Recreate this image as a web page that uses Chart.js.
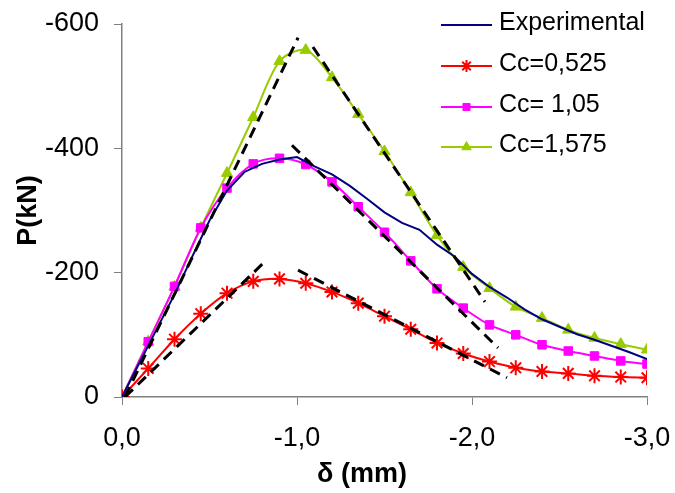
<!DOCTYPE html>
<html>
<head>
<meta charset="utf-8">
<script src="https://cdn.jsdelivr.net/npm/chart.js@4.4.1/dist/chart.umd.min.js"></script>
<style>
  html, body { margin: 0; padding: 0; background: #fff; }
  #wrap { width: 675px; height: 493px; }
</style>
</head>
<body>
<div id="wrap"><canvas id="myChart"></canvas></div>
<script>
// model points, every 0.15 mm
var modelDelta = [0, -0.15, -0.3, -0.45, -0.6, -0.75, -0.9, -1.05, -1.2, -1.35, -1.5,
                  -1.65, -1.8, -1.95, -2.1, -2.25, -2.4, -2.55, -2.7, -2.85, -3.0];
var cc0525 = [0, -46, -93, -134, -167, -186, -190, -183, -169, -151, -130,
              -109, -87, -70, -57, -47, -41, -38, -34, -32, -31];
var cc105 = [0, -89, -178, -272, -336, -375, -384, -374, -346, -306, -265,
             -219, -174, -143, -116, -100, -84, -74, -66, -58, -53];
var cc1575 = [0, -89, -177, -272, -360, -450, -540, -558, -514, -455, -395,
              -329, -260, -209, -175, -145, -127, -108, -95, -85, -76];

// experimental curve
var expDelta = [0, -0.1, -0.2, -0.3, -0.4, -0.5, -0.6, -0.7, -0.8, -0.9, -1.0,
                -1.1, -1.2, -1.3, -1.4, -1.5, -1.6, -1.7, -1.8, -1.9, -2.0,
                -2.1, -2.2, -2.3, -2.4, -2.5, -2.6, -2.7, -2.8, -2.9, -3.0, -3.05];
var expLoad = [0, -55, -110, -165, -225, -284, -332, -362, -375, -382, -386,
               -371, -358, -340, -319, -297, -280, -269, -245, -226, -198,
               -177, -160, -141, -125, -113, -101, -92, -82, -72, -61, -55];

// dashed black segments [x1, y1, x2, y2]
var dashSegs = [
  [-0.017, 0, -1.006, -578],
  [-1.091, -563, -2.074, -153],
  [-0.971, -405, -2.149, -79],
  [-0.017, 0, -0.806, -215],
  [-1.006, -204, -2.2, -31]
];

var xTicks = [0, -1, -2, -3];
var xTickLabels = ['0,0', '-1,0', '-2,0', '-3,0'];
var yTicks = [0, -200, -400, -600];
var yTickLabels = ['0', '-200', '-400', '-600'];

function pts(xs, ys) {
  return xs.map(function (x, i) { return { x: x, y: ys[i] }; });
}

var datasets = [
  {
    label: 'Experimental', data: pts(expDelta, expLoad),
    borderColor: '#000080', backgroundColor: '#000080', borderWidth: 2,
    pointRadius: 0, tension: 0, showLine: true, order: 2
  },
  {
    label: 'Cc=0,525', data: pts(modelDelta, cc0525),
    borderColor: '#FF0000', backgroundColor: '#FF0000', borderWidth: 2,
    pointStyle: 'star', pointRadius: 7.5, pointBorderWidth: 2,
    tension: 0.3, showLine: true, order: 3
  },
  {
    label: 'Cc= 1,05', data: pts(modelDelta, cc105),
    borderColor: '#FF00FF', backgroundColor: '#FF00FF', borderWidth: 2,
    pointStyle: 'rect', pointRadius: 6, pointBorderWidth: 1,
    tension: 0.3, showLine: true, order: 4
  },
  {
    label: 'Cc=1,575', data: pts(modelDelta, cc1575),
    borderColor: '#99CC00', backgroundColor: '#99CC00', borderWidth: 2,
    pointStyle: 'triangle', pointRadius: 6.5, pointBorderWidth: 1,
    tension: 0.3, showLine: true, order: 5
  }
];

dashSegs.forEach(function (s) {
  datasets.push({
    label: '', data: [{ x: s[0], y: s[1] }, { x: s[2], y: s[3] }],
    borderColor: '#000', borderWidth: 3, borderDash: [11, 7],
    pointRadius: 0, showLine: true, order: 0
  });
});

var FONT = '"Liberation Sans", Arial, sans-serif';

// legend + x axis title drawn on the canvas
var legendBox = {
  id: 'legendBox',
  afterDraw: function (chart) {
    var ctx = chart.ctx;
    var rows = [25, 66, 107, 147];
    ctx.save();
    for (var i = 0; i < 4; i++) {
      var ds = chart.data.datasets[i];
      var y = rows[i];
      ctx.strokeStyle = ds.borderColor;
      ctx.lineWidth = 2;
      ctx.setLineDash([]);
      ctx.beginPath();
      ctx.moveTo(441, y);
      ctx.lineTo(492, y);
      ctx.stroke();
      if (ds.pointStyle) {
        ctx.fillStyle = ds.backgroundColor;
        ctx.strokeStyle = ds.borderColor;
        ctx.lineWidth = ds.pointBorderWidth;
        Chart.helpers.drawPoint(ctx, {
          pointStyle: ds.pointStyle,
          radius: ds.pointStyle === 'star' ? 6 : ds.pointRadius - 1,
          borderWidth: ds.pointBorderWidth,
          rotation: 0
        }, 466.5, y);
      }
      ctx.fillStyle = '#000';
      ctx.font = '25px ' + FONT;
      ctx.textBaseline = 'middle';
      ctx.textAlign = 'left';
      ctx.fillText(ds.label, 499, y - 2);
    }
    ctx.font = 'bold 27px ' + FONT;
    ctx.textAlign = 'center';
    ctx.fillText('δ (mm)', 362, 475);
    ctx.restore();
  }
};

function noPad(scale) {
  scale.paddingTop = 0;
  scale.paddingBottom = 0;
  scale.paddingLeft = 0;
  scale.paddingRight = 0;
}

var ctx = document.getElementById('myChart');
var myChart = new Chart(ctx, {
  type: 'scatter',
  data: { datasets: datasets },
  options: {
    responsive: true,
    maintainAspectRatio: false,
    animation: false,
    layout: { padding: { left: 0, right: 28, top: 24, bottom: 0 } },
    plugins: {
      legend: { display: false },
      tooltip: { enabled: false }
    },
    scales: {
      x: {
        type: 'linear', min: -3, max: 0, reverse: true,
        afterFit: function (scale) { scale.height = 96; noPad(scale); },
        afterBuildTicks: function (scale) {
          scale.ticks = xTicks.map(function (v) { return { value: v }; });
        },
        grid: { display: true, drawOnChartArea: false, color: '#808080', tickLength: 8 },
        border: { display: true, color: '#808080', width: 1.5 },
        ticks: {
          color: '#000', padding: 17,
          font: { family: FONT, size: 27 },
          callback: function (v) { return xTickLabels[xTicks.indexOf(v)]; }
        }
      },
      y: {
        type: 'linear', min: -600, max: 0, reverse: true,
        afterFit: function (scale) { scale.width = 122; noPad(scale); },
        afterBuildTicks: function (scale) {
          scale.ticks = yTicks.map(function (v) { return { value: v }; });
        },
        grid: { display: true, drawOnChartArea: false, color: '#808080', tickLength: 8 },
        border: { display: true, color: '#808080', width: 1.5 },
        ticks: {
          color: '#000', padding: 15,
          font: { family: FONT, size: 27 },
          callback: function (v) { return yTickLabels[yTicks.indexOf(v)]; }
        },
        title: {
          display: true, text: 'P(kN)', color: '#000', padding: { top: 12, bottom: 0 },
          font: { family: FONT, size: 27, weight: 'bold' }
        }
      }
    }
  },
  plugins: [legendBox]
});
</script>
</body>
</html>
